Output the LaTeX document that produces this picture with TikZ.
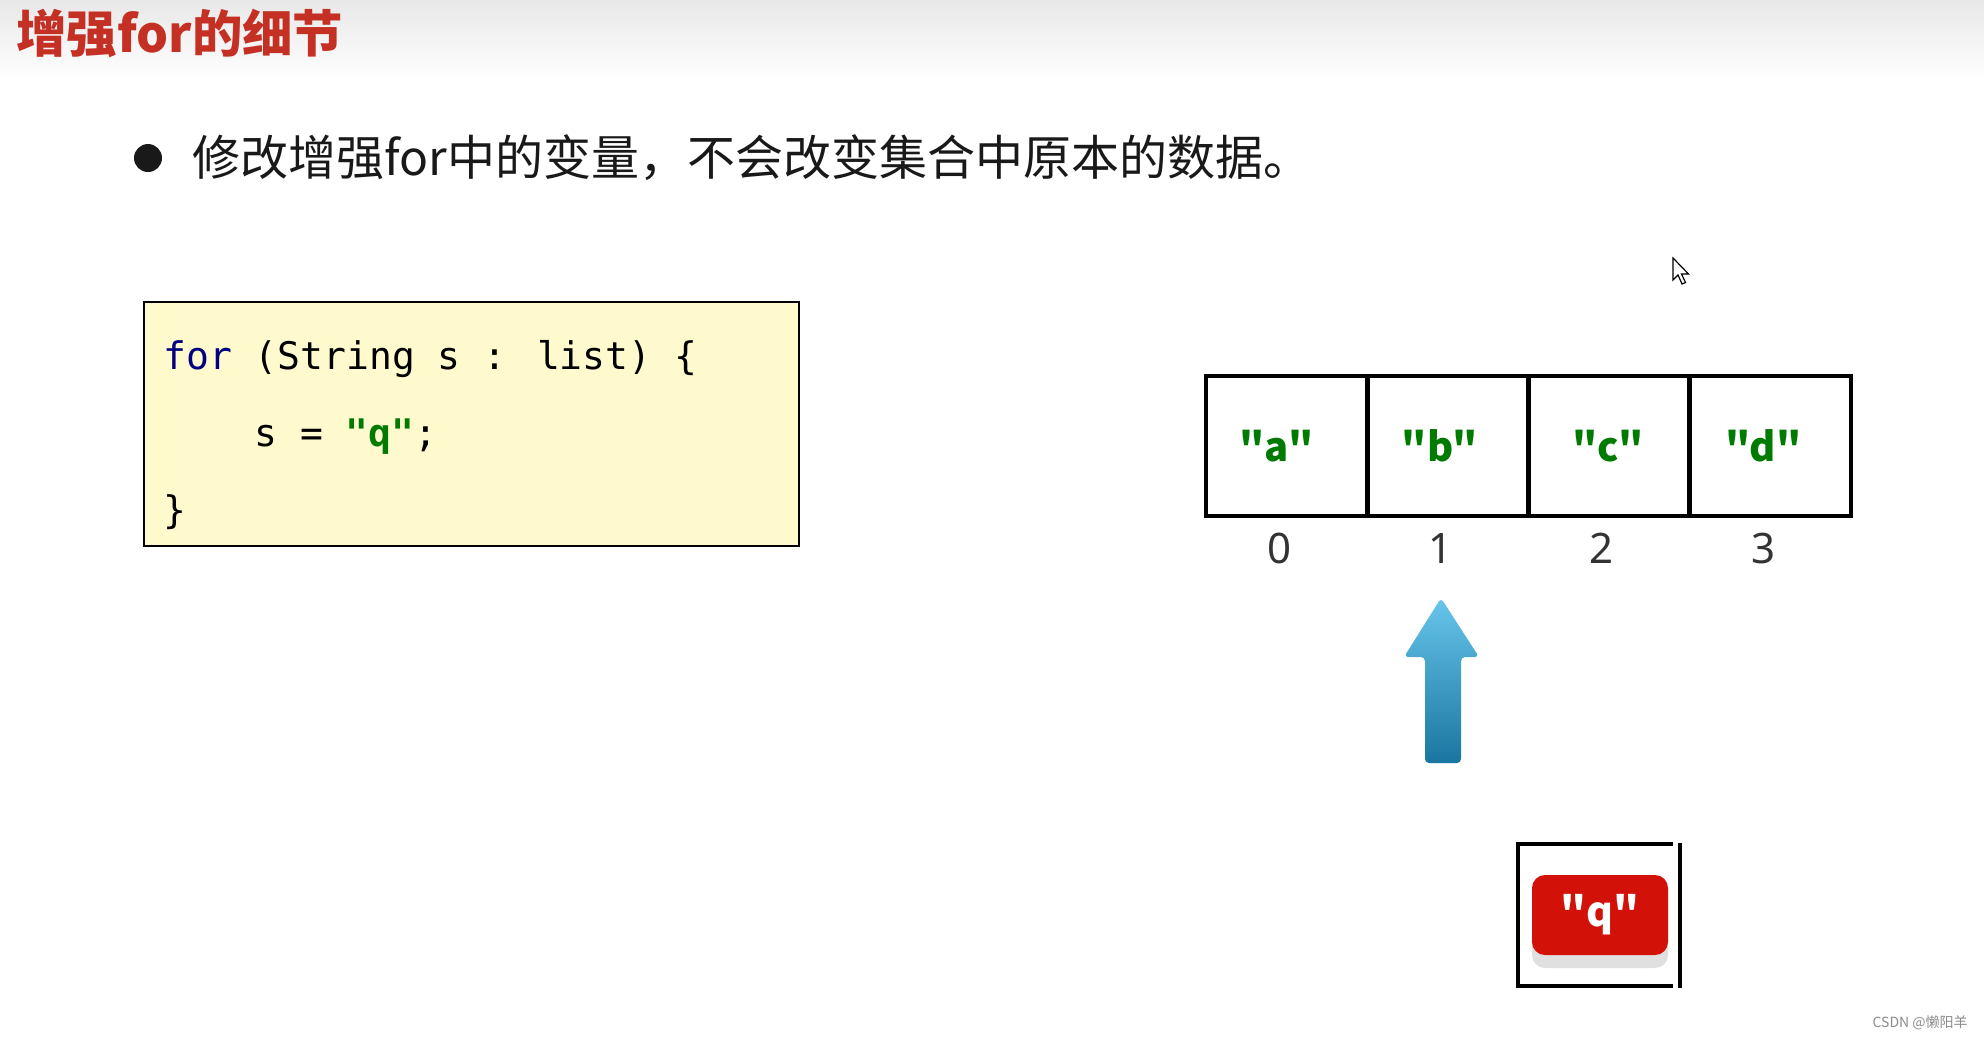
\documentclass[tikz,border=0pt]{standalone}
\usepackage{fontspec}
\newfontfamily\cjk{Noto Sans CJK SC}
\newfontfamily\codefont{DejaVu Sans Mono}
\newfontfamily\codefontb{DejaVu Sans Mono Bold}
\newfontfamily\sansf{Noto Sans}
\definecolor{titlered}{RGB}{196,48,36}
\definecolor{textc}{RGB}{25,25,25}
\definecolor{codebg}{RGB}{255,250,205}
\definecolor{kwblue}{RGB}{0,0,128}
\definecolor{strgreen}{RGB}{0,122,0}
\definecolor{qred}{RGB}{210,18,8}
\definecolor{arrowtop}{RGB}{104,198,236}
\definecolor{arrowmid}{RGB}{80,175,215}
\definecolor{arrowbot}{RGB}{24,118,160}
\definecolor{shadowc}{RGB}{224,224,224}
\tikzset{
  codebox/.style={draw=black, fill=codebg, line width=1.2pt, inner sep=0pt},
  codeline/.style={anchor=base west, inner sep=0pt, font=\codefont\fontsize{19}{23}\selectfont, text=black},
  cell/.style={draw=black, line width=2.3pt, minimum width=80.6pt, minimum height=70pt, inner sep=0pt,
               font=\cjk\bfseries\fontsize{20}{24}\selectfont, text=strgreen},
  idx/.style={inner sep=0pt, font=\sansf\fontsize{21}{25}\selectfont, text=black!80},
  qbox/.style={fill=qred, rounded corners=6.5pt, minimum width=68pt, minimum height=40pt, inner sep=0pt,
               font=\cjk\bfseries\fontsize{20.5}{24}\selectfont, text=white},
}
\begin{document}
\begin{tikzpicture}[x=0.5pt,y=-0.5pt]
\useasboundingbox (0,0) rectangle (1984,1040);
\fill[white] (0,0) rectangle (1984,1040);
\shade[top color=black!9, bottom color=white] (0,0) rectangle (1984,80);

% title
\node[anchor=west, inner sep=0pt, font=\cjk\bfseries\fontsize{25.2}{30}\selectfont, text=titlered] (title) at (16,33) {增强for的细节};

% bullet
\fill[textc] (148,158) circle (14);
\node[anchor=west, inner sep=0pt, font=\cjk\fontsize{24}{29}\selectfont, text=textc] (bul) at (192,158) {修改增强for中的变量，不会改变集合中原本的数据。};

% code box
\node[codebox, anchor=north west, minimum width=327.5pt, minimum height=122pt] (code) at (143,301) {};
\node[codeline] (l1) at (163,369) {\textcolor{kwblue}{for} (String s : list) \{};
\node[codeline] (l2) at (254,446) {s = \textcolor{strgreen}{\codefontb "q"};};
\node[codeline] (l3) at (163,523) {\}};

% array
\node[cell] (c0) at (1286.6,446) {\hspace*{-10pt}"a"};
\node[cell] (c1) at (1447.9,446) {\hspace*{-8pt}"b"};
\node[cell] (c2) at (1609.1,446) {\hspace*{-1pt}"c"};
\node[cell] (c3) at (1770.4,446) {\hspace*{-7pt}"d"};
\node[idx] (i0) at (1279,548) {0};
\node[idx] (i1) at (1440,548) {1};
\node[idx] (i2) at (1601,548) {2};
\node[idx] (i3) at (1763,548) {3};

% blue arrow
\shade[top color=arrowtop, middle color=arrowmid, bottom color=arrowbot, rounded corners=2pt]
  (1441,598) -- (1479,657) -- (1461,657) -- (1461,763) -- (1425,763) -- (1425,657) -- (1404,657) -- cycle;

% q box
\draw[line width=2.2pt] (1673,844) -- (1518,844) -- (1518,986) -- (1673,986);
\draw[line width=2.2pt] (1680,843) -- (1680,988);
\fill[shadowc, rounded corners=6.5pt] (1532,890) rectangle (1668,968);
\node[qbox] (q) at (1600,915) {"q"};

% cursor
\draw[fill=white, line width=0.6pt, line join=miter] (1673,258) -- ++(0,22) -- ++(5,-5) -- ++(4,9) -- ++(3.5,-1.5) -- ++(-4,-8.5) -- ++(7,0) -- cycle;

% watermark
\node[anchor=east, inner sep=0pt, font=\cjk\fontsize{7}{8}\selectfont, text=black!45] (wm) at (1968,1023) {CSDN @懒阳羊};
\end{tikzpicture}
\end{document}
